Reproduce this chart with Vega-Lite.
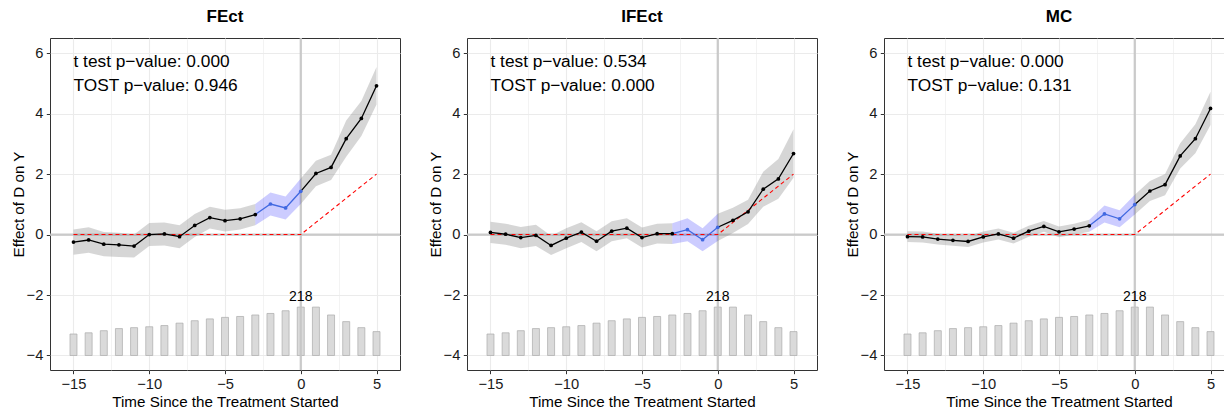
{
  "$schema": "https://vega.github.io/schema/vega-lite/v6.json",
  "padding": {"left": 10, "top": 8, "right": 0, "bottom": 0},
  "background": "white",
  "config": {
    "font": "Liberation Sans",
    "view": {"stroke": "#333333", "strokeWidth": 1},
    "axis": {
      "domain": false,
      "grid": true,
      "gridColor": "#ebebeb",
      "tickColor": "#333333",
      "tickSize": 3.7,
      "labelFontSize": 14.7,
      "labelColor": "#1a1a1a",
      "labelPadding": 3,
      "titleFontSize": 15.2,
      "titleFontWeight": "normal",
      "titleColor": "black",
      "labelFont": "Liberation Sans",
      "titleFont": "Liberation Sans"
    },
    "axisY": {"titlePadding": 0, "labelPadding": 3.5},
    "axisX": {"titlePadding": 3},
    "text": {"font": "Liberation Sans"}
  },
  "data": {
    "values": [
      {"m":"FEct","t":-15,"e":-0.25,"lo":-0.67,"hi":0.17,"tr":0,"b":-3.29,"n":97,"p1":"t test p−value: 0.000","p2":"TOST p−value: 0.946"},
      {"m":"FEct","t":-14,"e":-0.18,"lo":-0.60,"hi":0.24,"tr":0,"b":-3.25,"n":102},
      {"m":"FEct","t":-13,"e":-0.32,"lo":-0.72,"hi":0.08,"tr":0,"b":-3.18,"n":112},
      {"m":"FEct","t":-12,"e":-0.34,"lo":-0.74,"hi":0.06,"tr":0,"b":-3.11,"n":121},
      {"m":"FEct","t":-11,"e":-0.38,"lo":-0.76,"hi":0.00,"tr":0,"b":-3.08,"n":125},
      {"m":"FEct","t":-10,"e":0.00,"lo":-0.38,"hi":0.38,"tr":0,"b":-3.05,"n":129},
      {"m":"FEct","t":-9,"e":0.02,"lo":-0.36,"hi":0.40,"tr":0,"b":-3.01,"n":135},
      {"m":"FEct","t":-8,"e":-0.07,"lo":-0.45,"hi":0.31,"tr":0,"b":-2.93,"n":146},
      {"m":"FEct","t":-7,"e":0.30,"lo":-0.08,"hi":0.68,"tr":0,"b":-2.85,"n":157},
      {"m":"FEct","t":-6,"e":0.56,"lo":0.20,"hi":0.92,"tr":0,"b":-2.79,"n":165},
      {"m":"FEct","t":-5,"e":0.46,"lo":0.10,"hi":0.82,"tr":0,"b":-2.74,"n":172},
      {"m":"FEct","t":-4,"e":0.52,"lo":0.17,"hi":0.87,"tr":0,"b":-2.71,"n":176},
      {"m":"FEct","t":-3,"e":0.66,"lo":0.31,"hi":1.01,"tr":0,"b":-2.66,"n":183},
      {"m":"FEct","t":-2,"e":1.01,"lo":0.63,"hi":1.39,"tr":0,"b":-2.61,"n":189},
      {"m":"FEct","t":-1,"e":0.88,"lo":0.50,"hi":1.26,"tr":0,"b":-2.52,"n":202},
      {"m":"FEct","t":0,"e":1.43,"lo":1.01,"hi":1.85,"tr":0,"b":-2.40,"n":218},
      {"m":"FEct","t":1,"e":2.02,"lo":1.60,"hi":2.44,"tr":0.4,"b":-2.40,"n":218},
      {"m":"FEct","t":2,"e":2.22,"lo":1.80,"hi":2.64,"tr":0.8,"b":-2.66,"n":183},
      {"m":"FEct","t":3,"e":3.17,"lo":2.57,"hi":3.77,"tr":1.2,"b":-2.88,"n":153},
      {"m":"FEct","t":4,"e":3.84,"lo":3.26,"hi":4.42,"tr":1.6,"b":-3.08,"n":125},
      {"m":"FEct","t":5,"e":4.92,"lo":4.30,"hi":5.54,"tr":2.0,"b":-3.21,"n":108},

      {"m":"IFEct","t":-15,"e":0.07,"lo":-0.28,"hi":0.42,"tr":0,"b":-3.29,"n":97,"p1":"t test p−value: 0.534","p2":"TOST p−value: 0.000"},
      {"m":"IFEct","t":-14,"e":0.01,"lo":-0.34,"hi":0.36,"tr":0,"b":-3.25,"n":102},
      {"m":"IFEct","t":-13,"e":-0.10,"lo":-0.45,"hi":0.25,"tr":0,"b":-3.18,"n":112},
      {"m":"IFEct","t":-12,"e":-0.03,"lo":-0.38,"hi":0.32,"tr":0,"b":-3.11,"n":121},
      {"m":"IFEct","t":-11,"e":-0.36,"lo":-0.68,"hi":-0.04,"tr":0,"b":-3.08,"n":125},
      {"m":"IFEct","t":-10,"e":-0.12,"lo":-0.45,"hi":0.21,"tr":0,"b":-3.05,"n":129},
      {"m":"IFEct","t":-9,"e":0.08,"lo":-0.25,"hi":0.41,"tr":0,"b":-3.01,"n":135},
      {"m":"IFEct","t":-8,"e":-0.22,"lo":-0.55,"hi":0.11,"tr":0,"b":-2.93,"n":146},
      {"m":"IFEct","t":-7,"e":0.11,"lo":-0.22,"hi":0.44,"tr":0,"b":-2.85,"n":157},
      {"m":"IFEct","t":-6,"e":0.21,"lo":-0.12,"hi":0.54,"tr":0,"b":-2.79,"n":165},
      {"m":"IFEct","t":-5,"e":-0.10,"lo":-0.43,"hi":0.23,"tr":0,"b":-2.74,"n":172},
      {"m":"IFEct","t":-4,"e":0.03,"lo":-0.30,"hi":0.36,"tr":0,"b":-2.71,"n":176},
      {"m":"IFEct","t":-3,"e":0.03,"lo":-0.31,"hi":0.37,"tr":0,"b":-2.66,"n":183},
      {"m":"IFEct","t":-2,"e":0.16,"lo":-0.22,"hi":0.54,"tr":0,"b":-2.61,"n":189},
      {"m":"IFEct","t":-1,"e":-0.17,"lo":-0.55,"hi":0.21,"tr":0,"b":-2.52,"n":202},
      {"m":"IFEct","t":0,"e":0.24,"lo":-0.21,"hi":0.69,"tr":0,"b":-2.40,"n":218},
      {"m":"IFEct","t":1,"e":0.47,"lo":0.05,"hi":0.89,"tr":0.4,"b":-2.40,"n":218},
      {"m":"IFEct","t":2,"e":0.75,"lo":0.35,"hi":1.15,"tr":0.8,"b":-2.66,"n":183},
      {"m":"IFEct","t":3,"e":1.50,"lo":0.92,"hi":2.08,"tr":1.2,"b":-2.88,"n":153},
      {"m":"IFEct","t":4,"e":1.84,"lo":1.18,"hi":2.50,"tr":1.6,"b":-3.08,"n":125},
      {"m":"IFEct","t":5,"e":2.68,"lo":1.88,"hi":3.48,"tr":2.0,"b":-3.21,"n":108},

      {"m":"MC","t":-15,"e":-0.07,"lo":-0.25,"hi":0.11,"tr":0,"b":-3.29,"n":97,"p1":"t test p−value: 0.000","p2":"TOST p−value: 0.131"},
      {"m":"MC","t":-14,"e":-0.08,"lo":-0.26,"hi":0.10,"tr":0,"b":-3.25,"n":102},
      {"m":"MC","t":-13,"e":-0.15,"lo":-0.33,"hi":0.03,"tr":0,"b":-3.18,"n":112},
      {"m":"MC","t":-12,"e":-0.19,"lo":-0.37,"hi":-0.01,"tr":0,"b":-3.11,"n":121},
      {"m":"MC","t":-11,"e":-0.23,"lo":-0.41,"hi":-0.05,"tr":0,"b":-3.08,"n":125},
      {"m":"MC","t":-10,"e":-0.08,"lo":-0.26,"hi":0.10,"tr":0,"b":-3.05,"n":129},
      {"m":"MC","t":-9,"e":0.02,"lo":-0.16,"hi":0.20,"tr":0,"b":-3.01,"n":135},
      {"m":"MC","t":-8,"e":-0.12,"lo":-0.30,"hi":0.06,"tr":0,"b":-2.93,"n":146},
      {"m":"MC","t":-7,"e":0.11,"lo":-0.07,"hi":0.29,"tr":0,"b":-2.85,"n":157},
      {"m":"MC","t":-6,"e":0.27,"lo":0.09,"hi":0.45,"tr":0,"b":-2.79,"n":165},
      {"m":"MC","t":-5,"e":0.09,"lo":-0.09,"hi":0.27,"tr":0,"b":-2.74,"n":172},
      {"m":"MC","t":-4,"e":0.18,"lo":0.00,"hi":0.36,"tr":0,"b":-2.71,"n":176},
      {"m":"MC","t":-3,"e":0.29,"lo":0.09,"hi":0.49,"tr":0,"b":-2.66,"n":183},
      {"m":"MC","t":-2,"e":0.68,"lo":0.40,"hi":0.96,"tr":0,"b":-2.61,"n":189},
      {"m":"MC","t":-1,"e":0.52,"lo":0.24,"hi":0.80,"tr":0,"b":-2.52,"n":202},
      {"m":"MC","t":0,"e":0.99,"lo":0.66,"hi":1.32,"tr":0,"b":-2.40,"n":218},
      {"m":"MC","t":1,"e":1.44,"lo":1.11,"hi":1.77,"tr":0.4,"b":-2.40,"n":218},
      {"m":"MC","t":2,"e":1.65,"lo":1.30,"hi":2.00,"tr":0.8,"b":-2.66,"n":183},
      {"m":"MC","t":3,"e":2.60,"lo":2.18,"hi":3.02,"tr":1.2,"b":-2.88,"n":153},
      {"m":"MC","t":4,"e":3.17,"lo":2.69,"hi":3.65,"tr":1.6,"b":-3.08,"n":125},
      {"m":"MC","t":5,"e":4.17,"lo":3.62,"hi":4.72,"tr":2.0,"b":-3.21,"n":108}
    ]
  },
  "facet": {
    "column": {
      "field": "m",
      "type": "nominal",
      "sort": ["FEct", "IFEct", "MC"],
      "header": {
        "title": null,
        "labelFontSize": 17,
        "labelFontWeight": "bold",
        "labelColor": "black",
        "labelFont": "Liberation Sans",
        "labelPadding": 10
      }
    }
  },
  "spacing": 25,
  "resolve": {"axis": {"x": "independent", "y": "independent"}},
  "spec": {
    "width": 350,
    "height": 332,
    "layer": [
      {
        "mark": {"type": "bar", "size": 7, "fill": "#dadada", "stroke": "#aaaaaa", "strokeWidth": 0.7},
        "encoding": {
          "x": {
            "field": "t", "type": "quantitative",
            "scale": {"domain": [-16.22, 6.22], "nice": false, "zero": false},
            "axis": {
              "title": "Time Since the Treatment Started",
              "values": [-15, -12.5, -10, -7.5, -5, -2.5, 0, 2.5, 5],
              "labelExpr": "datum.value % 5 == 0 ? datum.label : ''",
              "tickOpacity": {"condition": {"test": "datum.value % 5 != 0", "value": 0}, "value": 1},
              "gridWidth": {"condition": {"test": "datum.value % 5 != 0", "value": 0.6}, "value": 1.1}
            }
          },
          "y": {
            "field": "b", "type": "quantitative",
            "scale": {"domain": [-4.48, 6.5], "nice": false, "zero": false},
            "axis": {
              "title": "Effect of D on Y",
              "values": [-4, -3, -2, -1, 0, 1, 2, 3, 4, 5, 6],
              "labelExpr": "datum.value % 2 == 0 ? datum.label : ''",
              "tickOpacity": {"condition": {"test": "datum.value % 2 != 0", "value": 0}, "value": 1},
              "gridWidth": {"condition": {"test": "datum.value % 2 != 0", "value": 0.6}, "value": 1.1}
            }
          },
          "y2": {"datum": -4}
        }
      },
      {
        "transform": [{"filter": "datum.t == 0"}],
        "mark": {"type": "rule", "color": "#c4c4c4", "strokeWidth": 2.2, "opacity": 0.9},
        "encoding": {"y": {"datum": 0}}
      },
      {
        "transform": [{"filter": "datum.t == 0"}],
        "mark": {"type": "rule", "color": "#c4c4c4", "strokeWidth": 2.2, "opacity": 0.9},
        "encoding": {"x": {"field": "t", "type": "quantitative"}}
      },
      {
        "transform": [{"filter": "datum.t <= -3"}],
        "mark": {"type": "area", "color": "#808080", "opacity": 0.32},
        "encoding": {
          "x": {"field": "t", "type": "quantitative"},
          "y": {"field": "lo", "type": "quantitative"},
          "y2": {"field": "hi"}
        }
      },
      {
        "transform": [{"filter": "datum.t >= 0"}],
        "mark": {"type": "area", "color": "#808080", "opacity": 0.32},
        "encoding": {
          "x": {"field": "t", "type": "quantitative"},
          "y": {"field": "lo", "type": "quantitative"},
          "y2": {"field": "hi"}
        }
      },
      {
        "transform": [{"filter": "datum.t >= -3 && datum.t <= 0"}],
        "mark": {"type": "area", "color": "#0000ff", "opacity": 0.2},
        "encoding": {
          "x": {"field": "t", "type": "quantitative"},
          "y": {"field": "lo", "type": "quantitative"},
          "y2": {"field": "hi"}
        }
      },
      {
        "mark": {"type": "line", "color": "#ff0000", "strokeWidth": 1.1, "strokeDash": [4, 3]},
        "encoding": {
          "x": {"field": "t", "type": "quantitative"},
          "y": {"field": "tr", "type": "quantitative"}
        }
      },
      {
        "transform": [{"filter": "datum.t <= -3"}],
        "mark": {"type": "line", "color": "black", "strokeWidth": 1.3},
        "encoding": {
          "x": {"field": "t", "type": "quantitative"},
          "y": {"field": "e", "type": "quantitative"}
        }
      },
      {
        "transform": [{"filter": "datum.t >= 0"}],
        "mark": {"type": "line", "color": "black", "strokeWidth": 1.3},
        "encoding": {
          "x": {"field": "t", "type": "quantitative"},
          "y": {"field": "e", "type": "quantitative"}
        }
      },
      {
        "transform": [{"filter": "datum.t >= -3 && datum.t <= 0"}],
        "mark": {"type": "line", "color": "#4169e1", "strokeWidth": 1.3},
        "encoding": {
          "x": {"field": "t", "type": "quantitative"},
          "y": {"field": "e", "type": "quantitative"}
        }
      },
      {
        "transform": [{"filter": "datum.t <= -3 || datum.t >= 1"}],
        "mark": {"type": "point", "filled": true, "color": "black", "size": 14, "opacity": 1},
        "encoding": {
          "x": {"field": "t", "type": "quantitative"},
          "y": {"field": "e", "type": "quantitative"}
        }
      },
      {
        "transform": [{"filter": "datum.t >= -2 && datum.t <= 0"}],
        "mark": {"type": "point", "filled": true, "color": "#4169e1", "size": 14, "opacity": 1},
        "encoding": {
          "x": {"field": "t", "type": "quantitative"},
          "y": {"field": "e", "type": "quantitative"}
        }
      },
      {
        "transform": [{"filter": "datum.t == -15"}],
        "mark": {"type": "text", "align": "left", "baseline": "middle", "fontSize": 17.3, "color": "black"},
        "encoding": {
          "x": {"field": "t", "type": "quantitative"},
          "y": {"datum": 5.72},
          "text": {"field": "p1"}
        }
      },
      {
        "transform": [{"filter": "datum.t == -15"}],
        "mark": {"type": "text", "align": "left", "baseline": "middle", "fontSize": 17.3, "color": "black"},
        "encoding": {
          "x": {"field": "t", "type": "quantitative"},
          "y": {"datum": 4.92},
          "text": {"field": "p2"}
        }
      },
      {
        "transform": [{"filter": "datum.t == 0"}],
        "mark": {"type": "text", "align": "center", "baseline": "middle", "fontSize": 14, "color": "black"},
        "encoding": {
          "x": {"field": "t", "type": "quantitative"},
          "y": {"datum": -2.05},
          "text": {"field": "n", "type": "quantitative"}
        }
      }
    ]
  }
}
